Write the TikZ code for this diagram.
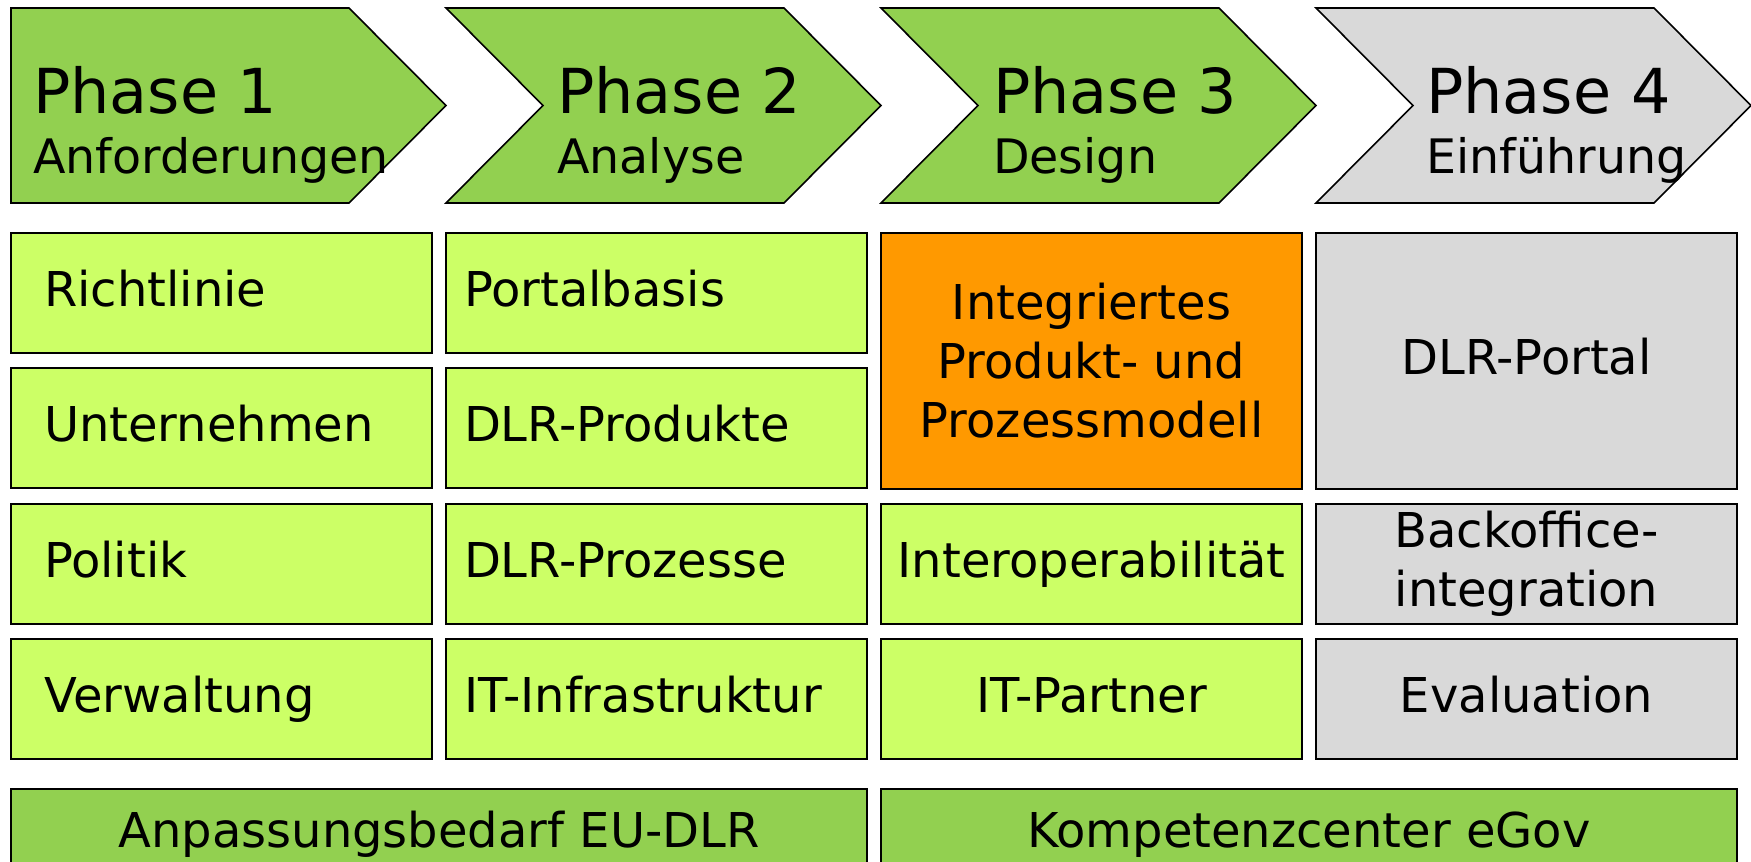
\documentclass[tikz,border=0pt]{standalone}
\usepackage{fontspec}
\setmainfont{DejaVu Sans}
\definecolor{chevgreen}{HTML}{92D050}
\definecolor{lightgreen}{HTML}{CCFF66}
\definecolor{orangebox}{HTML}{FF9900}
\definecolor{graybox}{HTML}{D9D9D9}
\begin{document}
\begin{tikzpicture}[x=1pt,y=-1pt,
  chev/.style={draw=black, line width=1.6pt, line join=miter},
  phasetitle/.style={anchor=base west, inner sep=0pt, font=\fontsize{62}{70}\selectfont},
  phasesub/.style={anchor=base west, inner sep=0pt, font=\fontsize{47.5}{56}\selectfont},
  cell/.style={draw=black, line width=1.6pt, minimum width=421pt, minimum height=120pt, inner sep=0pt, font=\fontsize{48}{59}\selectfont},
  one/.style={text height=38pt, text depth=12pt},
  lcellA/.style={cell, one, fill=lightgreen, text width=355pt, align=left, inner xsep=33pt},
  lcellB/.style={cell, one, fill=lightgreen, text width=385pt, align=left, inner xsep=18pt},
  ccell/.style={cell, one, align=center},
  bigcell/.style={cell, minimum height=256pt, align=center},
  foot/.style={cell, one, fill=chevgreen, minimum width=856pt, minimum height=91pt, align=center}
]
\useasboundingbox (0,0) rectangle (1751,862);
\clip (0,0) rectangle (1751,862);

% chevrons
\filldraw[chev, fill=chevgreen] (11,8) -- (349,8) -- (446,105.5) -- (349,203) -- (11,203) -- cycle;
\filldraw[chev, fill=chevgreen] (446,8) -- (784,8) -- (881,105.5) -- (784,203) -- (446,203) -- (543,105.5) -- cycle;
\filldraw[chev, fill=chevgreen] (881,8) -- (1219,8) -- (1316,105.5) -- (1219,203) -- (881,203) -- (978,105.5) -- cycle;
\filldraw[chev, fill=graybox] (1316,8) -- (1654,8) -- (1751,105.5) -- (1654,203) -- (1316,203) -- (1413,105.5) -- cycle;

\node[phasetitle] (p1) at (33,113) {Phase 1};
\node[phasesub] (s1) at (33,173) {Anforderungen};
\node[phasetitle] (p2) at (557,113) {Phase 2};
\node[phasesub] (s2) at (557,173) {Analyse};
\node[phasetitle] (p3) at (993,113) {Phase 3};
\node[phasesub] (s3) at (993,173) {Design};
\node[phasetitle] (p4) at (1426,113) {Phase 4};
\node[phasesub] (s4) at (1426,173) {Einführung};

% column 1
\node[lcellA] (a1) at (221.5,293) {Richtlinie};
\node[lcellA] (a2) at (221.5,428) {Unternehmen};
\node[lcellA] (a3) at (221.5,564) {Politik};
\node[lcellA] (a4) at (221.5,699) {Verwaltung};

% column 2
\node[lcellB] (b1) at (656.5,293) {Portalbasis};
\node[lcellB] (b2) at (656.5,428) {DLR-Produkte};
\node[lcellB] (b3) at (656.5,564) {DLR-Prozesse};
\node[lcellB] (b4) at (656.5,699) {IT-Infrastruktur};

% column 3
\node[bigcell, fill=orangebox] (c1) at (1091.5,361) {Integriertes\\Produkt- und\\Prozessmodell};
\node[ccell, fill=lightgreen] (c3) at (1091.5,564) {Interoperabilität};
\node[ccell, fill=lightgreen] (c4) at (1091.5,699) {IT-Partner};

% column 4
\node[bigcell, one, fill=graybox] (d1) at (1526.5,361) {DLR-Portal};
\node[cell, fill=graybox, align=center] (d3) at (1526.5,564) {Backoffice-\\integration};
\node[ccell, fill=graybox] (d4) at (1526.5,699) {Evaluation};

% bottom bars
\node[foot] (f1) at (439,834.5) {Anpassungsbedarf EU-DLR};
\node[foot] (f2) at (1309,834.5) {Kompetenzcenter eGov};
\end{tikzpicture}
\end{document}
